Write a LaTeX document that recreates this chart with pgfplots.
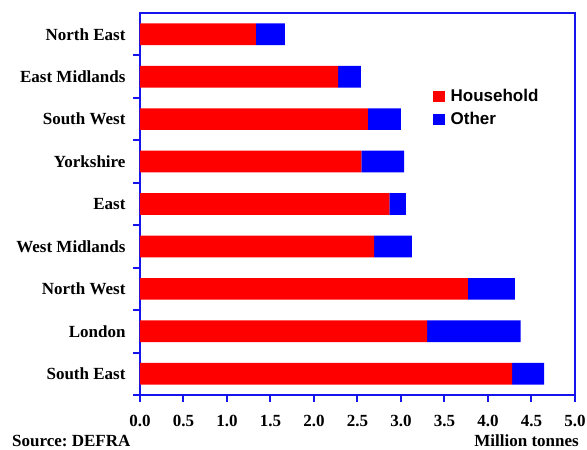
\documentclass[border=0pt]{standalone}
\usepackage{fontspec}
\setmainfont{Liberation Serif}
\newfontfamily\arial{Liberation Sans}
\usepackage{pgfplots}
\pgfplotsset{compat=1.18}
\usepackage{pgfplotstable}

% Regional waste arisings, million tonnes (row 0 = bottom of the chart)
\pgfplotstableread{
pos household other
0   4.276  0.368
1   3.300  1.075
2   3.770  0.540
3   2.690  0.436
4   2.866  0.190
5   2.545  0.490
6   2.620  0.380
7   2.276  0.264
8   1.333  0.333
}\wastedata

\definecolor{hhred}{RGB}{255,0,0}
\definecolor{othblue}{RGB}{0,0,255}
\definecolor{frameblue}{RGB}{20,20,235}

\begin{document}
\frenchspacing
\begin{tikzpicture}
\begin{axis}[
  at={(0pt,0pt)}, anchor=south west,
  scale only axis,
  width=435pt, height=382pt,
  xbar stacked,
  bar width=21.7pt,
  xmin=0, xmax=5,
  ymin=-0.5, ymax=8.5,
  axis line style={frameblue, line width=2pt},
  every tick/.style={frameblue, line width=2pt},
  tick align=outside,
  tick pos=left,
  xtick={0,0.5,...,5},
  major tick length=7pt,
  /pgf/number format/fixed,
  /pgf/number format/fixed zerofill,
  /pgf/number format/precision=1,
  /pgf/number format/assume math mode=true,
  xticklabel style={font=\fontsize{17}{20}\selectfont\bfseries, yshift=-10pt},
  % tick marks sit between the categories
  ytick={-0.5,0.5,...,7.5},
  yticklabels={},
  % category names sit at the bar centres, without marks
  extra y ticks={0,...,8},
  extra y tick labels={South East, London, North West, West Midlands, East, Yorkshire, South West, East Midlands, North East},
  extra y tick style={major tick length=0pt, yticklabel style={font=\fontsize{17}{20}\selectfont\bfseries, xshift=-11pt}},
  legend style={draw=none, fill=none, at={(0.673,0.800)}, anchor=north west,
    inner sep=0pt, font=\arial\fontsize{17}{20}\selectfont\bfseries,
    row sep=9pt,
    nodes={inner sep=0pt, anchor=west},
    /tikz/every odd column/.append style={column sep=6pt}},
  legend cell align=left,
  legend image code/.code={\fill[#1] (0pt,-5.8pt) rectangle (11.7pt,5.8pt);},
  clip=false,
]
\addplot[fill=hhred, draw=none] table[x=household, y=pos] {\wastedata};
\addplot[fill=othblue, draw=none] table[x=other, y=pos] {\wastedata};
\legend{Household, Other}
\end{axis}
\node[anchor=base west, font=\fontsize{17}{20}\selectfont\bfseries, inner sep=0pt] at (-128pt,-52pt) {Source: DEFRA};
\node[anchor=base east, font=\fontsize{17}{20}\selectfont\bfseries, inner sep=0pt] at (439pt,-52pt) {Million tonnes};
\pgfresetboundingbox
\path[use as bounding box] (-140pt,-55pt) rectangle (447pt,395pt);
\end{tikzpicture}
\end{document}
